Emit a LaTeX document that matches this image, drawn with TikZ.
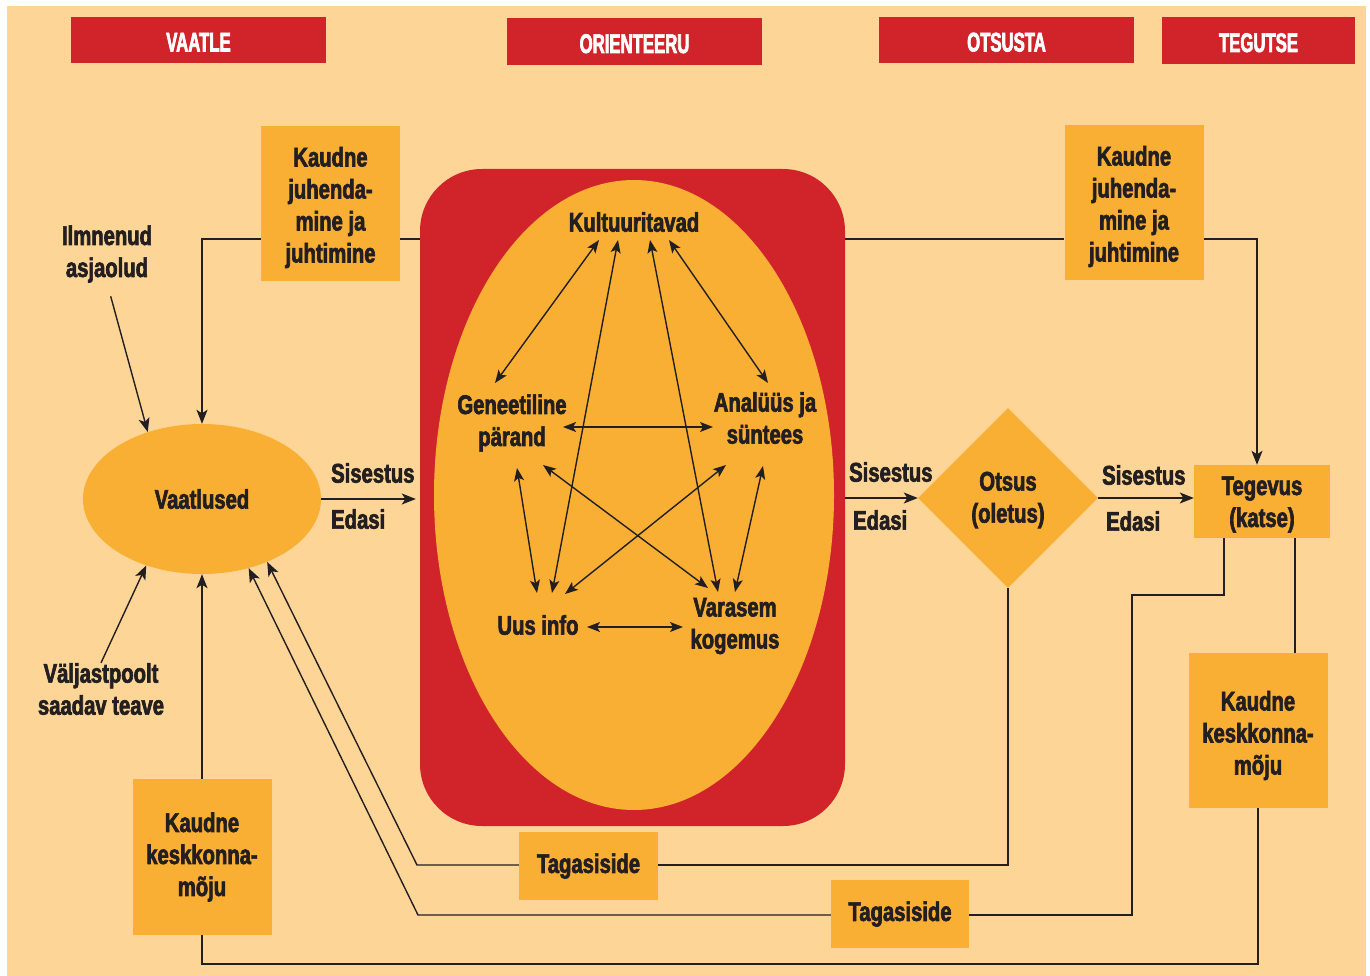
\documentclass[tikz,border=0pt]{standalone}
\usepackage{fontspec}
\setmainfont{Liberation Sans}[FakeStretch=0.75,BoldFeatures={FakeBold=2.4}]
\newfontfamily\hdrfont{Liberation Sans}[FakeStretch=0.62,BoldFeatures={FakeBold=2.4}]
\usetikzlibrary{shapes.geometric,arrows.meta,calc}
\definecolor{bg}{HTML}{FDD597}
\definecolor{dred}{HTML}{D1232A}
\definecolor{org}{HTML}{F9AF34}
\definecolor{ink}{HTML}{231F20}
\begin{document}
\begin{tikzpicture}[x=1pt,y=-1pt,
  txt/.style={text=ink,font=\bfseries\fontsize{27}{32}\selectfont,align=center,inner sep=0pt},
  hdr/.style={fill=dred,text=white,font=\hdrfont\bfseries\fontsize{27}{32}\selectfont,minimum height=46pt,inner sep=0pt,text height=23pt,text depth=0pt},
  obox/.style={txt,fill=org,minimum width=139pt,minimum height=155pt},
  tbox/.style={txt,fill=org,minimum width=139pt,minimum height=68pt},
  conn/.style={draw=ink,line width=1.4pt},
  arr/.style={conn,-{Stealth[length=14pt,width=11pt,inset=3.5pt]}},
  darr/.style={conn,{Stealth[length=13pt,width=10pt,inset=3pt]}-{Stealth[length=13pt,width=10pt,inset=3pt]}},
]
\useasboundingbox (0,0) rectangle (1370,976);
\fill[bg] (7,6) rectangle (1366,976);

% headers
\node[hdr,minimum width=255pt] (h1) at (198.5,40) {VAATLE};
\node[hdr,minimum width=255pt,minimum height=47pt] (h2) at (634.5,41.5) {ORIENTEERU};
\node[hdr,minimum width=255pt] (h3) at (1006.5,40) {OTSUSTA};
\node[hdr,minimum width=193pt,minimum height=47pt] (h4) at (1258.5,40.5) {TEGUTSE};

% orient block
\node[fill=dred,rounded corners=62pt,minimum width=425pt,minimum height=657pt,inner sep=0pt] (orient) at (632.5,497.5) {};
\node[ellipse,fill=org,minimum width=400pt,minimum height=630pt,inner sep=0pt] (oe) at (634,495) {};

\node[txt] (kult) at (634,222) {Kultuuritavad};
\node[txt] (gen) at (512,423) {Geneetiline\\pärand};
\node[txt] (ana) at (765,418) {Analüüs ja\\süntees};
\node[txt] (uus) at (538,625) {Uus info};
\node[txt] (var) at (735,626) {Varasem\\kogemus};

\draw[darr] ($(kult)+(-35,18)$) -- ($(gen)+(-17,-40)$);
\draw[darr] ($(kult)+(-16,18)$) -- ($(uus)+(14,-32)$);
\draw[darr] ($(kult)+(16,18)$) -- ($(var)+(-17,-34)$);
\draw[darr] ($(kult)+(35,18)$) -- ($(ana)+(3,-35)$);
\draw[darr] ($(gen)+(51,4)$) -- ($(ana)+(-52,9)$);
\draw[darr] ($(gen)+(5,45)$) -- ($(uus)+(-1,-32)$);
\draw[darr] ($(gen)+(31,42)$) -- ($(var)+(-27,-38)$);
\draw[darr] ($(ana)+(-39,47)$) -- ($(uus)+(27,-31)$);
\draw[darr] ($(ana)+(-2,48)$) -- ($(var)+(0,-34)$);
\draw[darr] ($(uus)+(49,2)$) -- ($(var)+(-52,1)$);

% left side
\node[ellipse,fill=org,minimum width=238pt,minimum height=150pt,inner sep=0pt,txt] (vaat) at (202,499) {Vaatlused};
\node[obox,label={[txt,yshift=-4pt]center:{Kaudne\\juhenda-\\mine ja\\juhtimine}}] (kjL) at (330.5,203.5) {};
\node[txt] (ilm) at (107,254) {Ilmnenud\\asjaolud};
\node[txt] (valj) at (101,689) {Väljastpoolt\\saadav teave};
\node[obox,minimum height=156pt] (kkL) at (202,857) {Kaudne\\keskkonna-\\mõju};

\node[txt,anchor=west] (s1) at (331,473) {Sisestus};
\node[txt,anchor=west] (e1) at (331,519) {Edasi};

% right side
\node[obox,label={[txt,yshift=-4pt]center:{Kaudne\\juhenda-\\mine ja\\juhtimine}}] (kjR) at (1134,202.5) {};
\node[diamond,fill=org,minimum width=180pt,minimum height=180pt,inner sep=0pt] (otsus) at (1008,498) {};
\node[txt] (otsust) at (1008,500) {Otsus\\(oletus)};
\node[txt,fill=org,minimum width=136pt,minimum height=73pt,label={[txt,yshift=-3pt]center:{Tegevus\\(katse)}}] (teg) at (1262,501.5) {};
\node[obox,label={[txt,yshift=-5pt]center:{Kaudne\\keskkonna-\\mõju}}] (kkR) at (1258,730.5) {};
\node[txt,anchor=west] (s2) at (849,472) {Sisestus};
\node[txt,anchor=west] (e2) at (853,520) {Edasi};
\node[txt,anchor=west] (s3) at (1102,475) {Sisestus};
\node[txt,anchor=west] (e3) at (1106,521) {Edasi};

\node[tbox] (tag1) at (588.5,866) {Tagasiside};
\node[tbox,minimum width=138pt] (tag2) at (900,914) {Tagasiside};

% connectors
\coordinate (yt) at (0,239);
\coordinate (yb) at (0,964);
\coordinate (c1) at (417,865);
\coordinate (c2) at (418,915);
\coordinate (c3) at (1132,595);

\draw[arr] (kjL.west |- yt) -| (vaat.north);
\draw[conn] (kjL.east |- yt) -- (orient.west |- yt);
\draw[conn] (orient.east |- yt) -- (kjR.west |- yt);
\draw[arr] (kjR.east |- yt) -| ([xshift=-5pt]teg.north);

\draw[arr,shorten >=4pt] (vaat.east) -- (orient.west |- vaat.east);
\draw[arr] (orient.east |- otsus.west) -- (otsus.west);
\draw[arr] (otsus.east) -- (otsus.east -| teg.west);

\draw[arr,shorten <=14pt] (ilm.south) -- (vaat.129);
\draw[arr] (valj.north) -- (vaat.230);
\draw[arr] (kkL.north) -- (kkL.north |- vaat.south);
\draw[conn] (kkL.south) -- (kkL.south |- yb) -| (kkR.south);

\draw[arr] (tag1.west |- c1) -- (c1) -- (vaat.-44);
\draw[conn] (tag1.east |- c1) -| (otsus.south);
\draw[arr] (tag2.west |- c2) -- (c2) -- (vaat.-56);
\draw[conn] (tag2.east |- c2) -| (c3) -| ([xshift=-38pt]teg.south);
\draw[conn] ([xshift=33pt]teg.south) -- ([xshift=33pt]teg.south |- kkR.north);
\end{tikzpicture}
\end{document}
